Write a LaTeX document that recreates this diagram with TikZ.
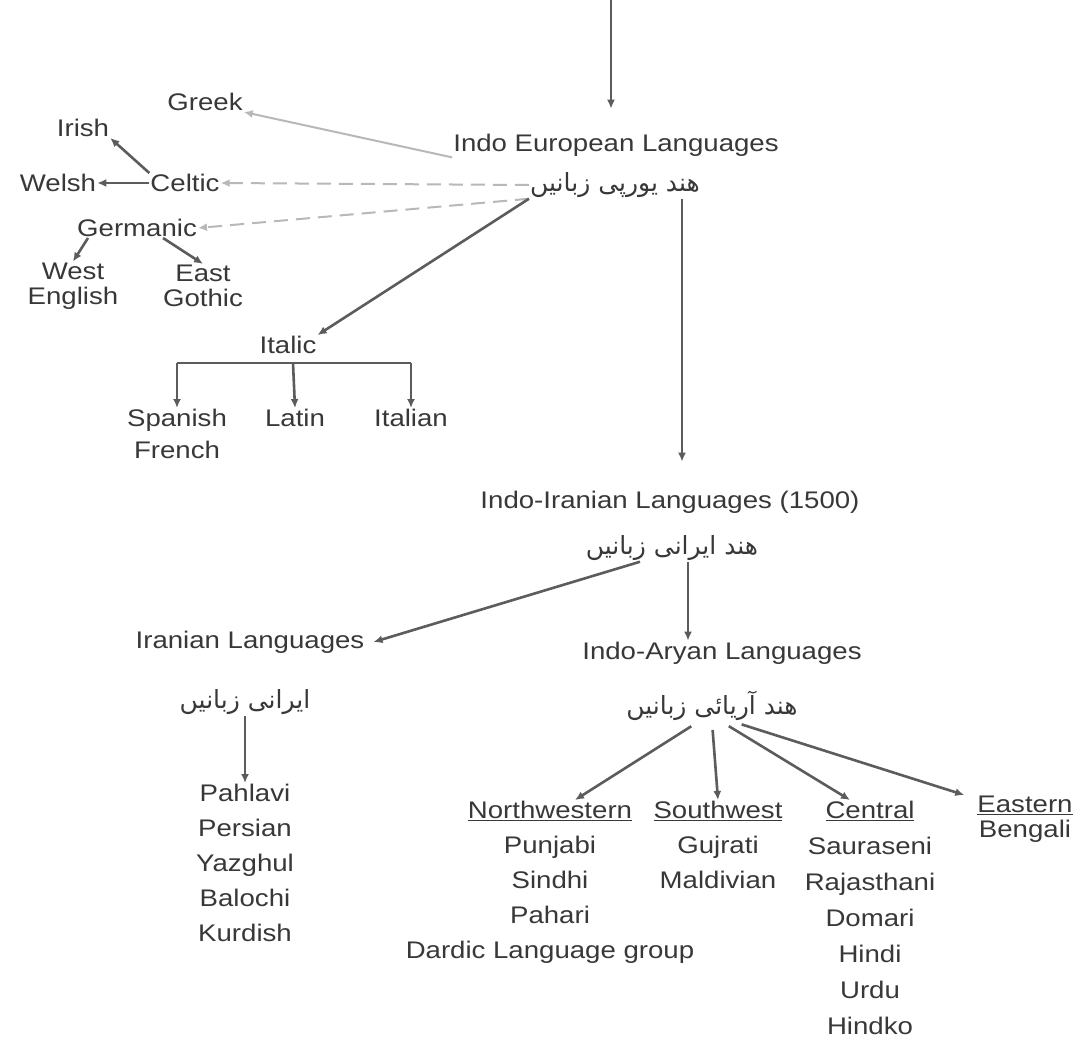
\documentclass[tikz,border=0pt]{standalone}
\usepackage{fontspec}
\setmainfont{Liberation Sans}[FakeStretch=1.15]
\newfontfamily\urdufont[Script=Arabic]{DejaVu Sans}
\TeXXeTstate=1
\usetikzlibrary{arrows.meta}
\definecolor{txt}{gray}{0.22}
\definecolor{lnc}{gray}{0.36}
\definecolor{flc}{gray}{0.72}
\begin{document}
\begin{tikzpicture}[x=1pt,y=-1pt,
  lbl/.style={font=\fontsize{24}{35}\selectfont, text=txt, inner sep=1pt, align=center},
  twoline/.style={font=\fontsize{24}{25}\selectfont, text=txt, inner sep=1pt, align=center},
  urd/.style={font=\urdufont\fontsize{25}{28}\selectfont, text=txt, inner sep=1pt},
  link/.style={draw=lnc, line width=2.6pt, -{Latex[length=9pt,width=8pt]}},
  faint/.style={draw=flc, line width=2pt, -{Latex[length=9pt,width=8pt]}},
  faintdash/.style={faint, dash pattern=on 14pt off 8pt},
  plain/.style={draw=lnc, line width=2.6pt}]
\useasboundingbox (0,0) rectangle (1084,1064);
\fill[white] (0,0) rectangle (1084,1064);

% top
\coordinate (top) at (611,0);
\node[lbl] (ie) at (616,145) {Indo European Languages};
\node[urd] (ieU) at (615,185) {\beginR هند یورپی زبانیں\endR};
\draw[link, shorten >=24pt] (top) -- (top |- ie.north);

% western branches
\node[lbl] (greek) at (205,102) {Greek};
\node[lbl] (irish) at (83,128) {Irish};
\node[lbl] (welsh) at (58,183) {Welsh};
\node[lbl] (celtic) at (185,183) {Celtic};
\node[lbl] (germ) at (137,228) {Germanic};
\node[twoline] (west) at (73,286) {West\\English};
\node[twoline] (east) at (203,286) {East\\Gothic};

\draw[faint] (ie.south west) -- (greek.south east);
\draw[faintdash] (ieU.west) -- (celtic.east);
\draw[faintdash] (ieU.south west) -- (germ.east);
\draw[link] (celtic.north west) -- (irish.south east);
\draw[link] (celtic.west) -- (welsh.east);
\draw[link] ([xshift=12pt]germ.south west) -- (west.north);
\draw[link] ([xshift=-35pt]germ.south east) -- (east.north);

% Italic
\node[lbl] (italic) at (288,345) {Italic};
\coordinate (bar) at (293,363);
\node[twoline, font=\fontsize{24}{32}\selectfont, anchor=north] (spanish) at (177,408) {Spanish\\French};
\node[lbl, anchor=north] (latin) at (295,408) {Latin};
\node[lbl, anchor=north] (italian) at (411,408) {Italian};
\draw[link] (ieU.south west) -- (italic.north east);
\draw[plain] (bar -| spanish) -- (bar -| italian);
\draw[link] (bar -| spanish) -- (spanish.north);
\draw[link] (bar) -- (latin.north);
\draw[link] (bar -| italian) -- (italian.north);

% Indo-Iranian
\node[lbl] (ii) at (670,502) {Indo-Iranian Languages (1500)};
\node[urd] (iiU) at (672,548) {\beginR هند ایرانی زبانیں\endR};
\draw[link, shorten >=28pt] ([xshift=67pt]ieU.south) -- ([xshift=67pt]ieU.south |- ii.north);

% Iranian
\node[lbl] (ir) at (250,642) {Iranian Languages};
\node[urd] (irU) at (245,702) {\beginR ایرانی زبانیں\endR};
\node[lbl, anchor=north] (irList) at (245,783) {Pahlavi\\Persian\\Yazghul\\Balochi\\Kurdish};
\draw[link] ([xshift=-32pt]iiU.south) -- ([xshift=8pt]ir.east);
\draw[link] (irU.south) -- (irList.north);

% Indo-Aryan
\node[lbl] (ia) at (722,653) {Indo-Aryan Languages};
\node[urd] (iaU) at (712,706) {\beginR هند آریائی زبانیں\endR};
\draw[link] ([xshift=16pt]iiU.south) -- ([xshift=16pt]iiU.south |- ia.north);

\node[lbl, anchor=north] (nw) at (550,800) {\underline{Northwestern}\\Punjabi\\Sindhi\\Pahari\\Dardic Language group};
\node[lbl, anchor=north] (sw) at (718,800) {\underline{Southwest}\\Gujrati\\Maldivian};
\node[lbl, font=\fontsize{24}{36}\selectfont, anchor=north] (ce) at (870,800) {\underline{Central}\\Sauraseni\\Rajasthani\\Domari\\Hindi\\Urdu\\Hindko};
\node[twoline, anchor=north] (ea) at (1025,795) {\underline{Eastern}\\Bengali};

\draw[link, shorten <=8pt] ([xshift=-14pt]iaU.south) -- ([xshift=25pt]nw.north);
\draw[link, shorten <=8pt] (iaU.south) -- (sw.north);
\draw[link, shorten <=8pt] ([xshift=10pt]iaU.south) -- ([xshift=-20pt]ce.north);
\draw[link, shorten <=8pt] ([xshift=22pt]iaU.south) -- ([xshift=-12pt]ea.north west);
\end{tikzpicture}
\end{document}
